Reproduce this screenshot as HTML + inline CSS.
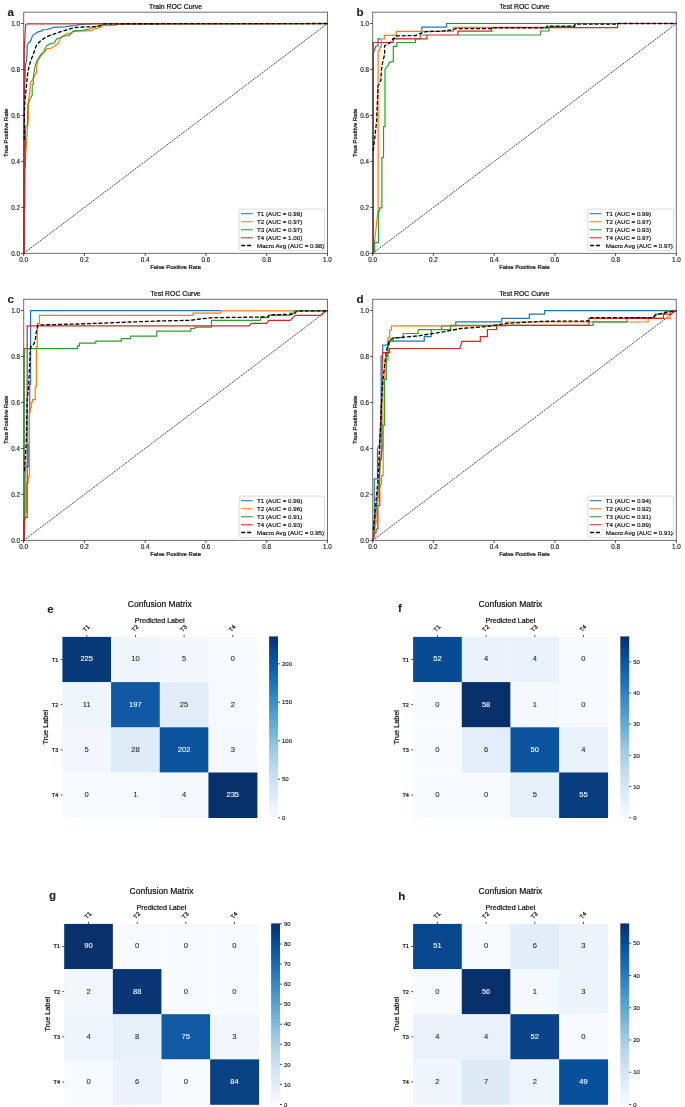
<!DOCTYPE html>
<html><head><meta charset="utf-8"><style>
html,body{margin:0;padding:0;background:#fff;}
svg{display:block;font-family:"Liberation Sans", sans-serif;}
svg{will-change:transform;}
</style></head><body>
<svg width="685" height="1107" viewBox="0 0 685 1107">
<rect width="685" height="1107" fill="#fff"/>
<g>
<line x1="23.70" y1="253.40" x2="327.50" y2="23.50" stroke="#000" stroke-width="0.75" stroke-dasharray="1.9,1.0"/>
<path d="M24.25,253.40 L24.25,150.00 L24.50,87.50 L25.10,76.70 L25.40,65.80 L26.50,60.40 L27.00,55.00 L27.20,45.70 L28.30,43.00 L30.50,41.30 L31.40,38.60 L33.10,35.10 L35.30,33.80 L37.50,32.10 L41.00,31.20 L42.80,29.90 L46.30,29.50 L50.70,28.60 L53.30,27.30 L65.50,26.80 L69.00,26.20 L76.80,25.50 L78.50,24.60 L86.40,24.20 L95.00,23.60 L327.80,23.50" fill="none" stroke="#1f77b4" stroke-width="1.2" stroke-linejoin="miter"/>
<path d="M24.30,253.40 L24.40,211.00 L25.10,207.00 L25.20,167.00 L25.60,155.00 L26.30,145.60 L27.40,131.00 L28.50,116.70 L28.70,99.40 L29.50,94.50 L30.00,88.60 L30.30,82.60 L32.70,79.40 L34.60,75.60 L36.50,72.90 L36.80,65.80 L37.90,60.40 L41.70,55.00 L45.40,50.90 L47.20,48.70 L50.20,48.70 L55.00,45.70 L58.50,43.00 L60.30,38.60 L63.80,36.00 L66.40,33.80 L70.80,33.40 L73.40,31.60 L78.50,31.20 L91.60,30.60 L95.10,28.60 L101.30,27.30 L103.00,25.50 L115.30,25.30 L116.20,24.20 L140.00,23.80 L327.80,23.60" fill="none" stroke="#ff7f0e" stroke-width="1.2" stroke-linejoin="miter"/>
<path d="M24.25,253.40 L24.30,170.00 L25.50,166.00 L25.50,150.00 L25.60,126.80 L27.30,125.40 L27.60,115.00 L27.90,103.70 L28.70,102.60 L30.60,98.30 L32.20,95.00 L32.20,84.80 L33.30,84.20 L33.30,78.30 L33.80,74.00 L34.60,68.50 L36.20,62.60 L37.90,59.30 L40.60,55.00 L43.60,52.20 L46.30,46.10 L49.80,43.90 L54.20,43.00 L56.80,38.60 L60.30,38.00 L62.90,36.00 L69.00,35.60 L73.40,30.80 L82.90,30.30 L89.90,29.00 L92.50,27.30 L97.80,26.00 L103.00,24.60 L104.80,23.80 L327.80,23.60" fill="none" stroke="#2ca02c" stroke-width="1.2" stroke-linejoin="miter"/>
<path d="M24.25,253.40 L24.25,49.20 L25.30,30.80 L25.70,24.20 L28.30,23.80 L327.80,23.50" fill="none" stroke="#d62728" stroke-width="1.2" stroke-linejoin="miter"/>
<path d="M24.25,140.00 L24.50,109.00 L24.90,101.00 L25.70,92.90 L26.20,87.50 L26.80,82.00 L27.30,76.70 L28.10,71.20 L29.20,65.80 L30.80,60.40 L33.00,55.00 L36.60,44.80 L41.00,40.40 L46.30,36.90 L53.30,34.30 L59.40,32.10 L66.40,29.90 L72.60,28.10 L75.00,27.50 L83.80,27.00 L97.00,26.70 L100.00,25.80 L104.00,23.80 L327.80,23.50" fill="none" stroke="#000" stroke-width="1.3" stroke-dasharray="4.0,1.8"/>
<path d="M23.70,12.20 H327.50 M23.70,253.40 H327.50 M23.70,11.90 V253.70 M327.50,11.90 V253.70" fill="none" stroke="#222" stroke-width="0.65"/>
<line x1="23.70" y1="253.40" x2="23.70" y2="256.00" stroke="#222" stroke-width="0.8"/>
<text x="23.70" y="261.60" font-size="6.3" text-anchor="middle" font-weight="normal" fill="#111" stroke="#111" stroke-width="0.12" >0.0</text>
<line x1="21.10" y1="253.40" x2="23.70" y2="253.40" stroke="#222" stroke-width="0.8"/>
<text x="20.00" y="255.65" font-size="6.3" text-anchor="end" font-weight="normal" fill="#111" stroke="#111" stroke-width="0.12" >0.0</text>
<line x1="84.46" y1="253.40" x2="84.46" y2="256.00" stroke="#222" stroke-width="0.8"/>
<text x="84.46" y="261.60" font-size="6.3" text-anchor="middle" font-weight="normal" fill="#111" stroke="#111" stroke-width="0.12" >0.2</text>
<line x1="21.10" y1="207.42" x2="23.70" y2="207.42" stroke="#222" stroke-width="0.8"/>
<text x="20.00" y="209.67" font-size="6.3" text-anchor="end" font-weight="normal" fill="#111" stroke="#111" stroke-width="0.12" >0.2</text>
<line x1="145.22" y1="253.40" x2="145.22" y2="256.00" stroke="#222" stroke-width="0.8"/>
<text x="145.22" y="261.60" font-size="6.3" text-anchor="middle" font-weight="normal" fill="#111" stroke="#111" stroke-width="0.12" >0.4</text>
<line x1="21.10" y1="161.44" x2="23.70" y2="161.44" stroke="#222" stroke-width="0.8"/>
<text x="20.00" y="163.69" font-size="6.3" text-anchor="end" font-weight="normal" fill="#111" stroke="#111" stroke-width="0.12" >0.4</text>
<line x1="205.98" y1="253.40" x2="205.98" y2="256.00" stroke="#222" stroke-width="0.8"/>
<text x="205.98" y="261.60" font-size="6.3" text-anchor="middle" font-weight="normal" fill="#111" stroke="#111" stroke-width="0.12" >0.6</text>
<line x1="21.10" y1="115.46" x2="23.70" y2="115.46" stroke="#222" stroke-width="0.8"/>
<text x="20.00" y="117.71" font-size="6.3" text-anchor="end" font-weight="normal" fill="#111" stroke="#111" stroke-width="0.12" >0.6</text>
<line x1="266.74" y1="253.40" x2="266.74" y2="256.00" stroke="#222" stroke-width="0.8"/>
<text x="266.74" y="261.60" font-size="6.3" text-anchor="middle" font-weight="normal" fill="#111" stroke="#111" stroke-width="0.12" >0.8</text>
<line x1="21.10" y1="69.48" x2="23.70" y2="69.48" stroke="#222" stroke-width="0.8"/>
<text x="20.00" y="71.73" font-size="6.3" text-anchor="end" font-weight="normal" fill="#111" stroke="#111" stroke-width="0.12" >0.8</text>
<line x1="327.50" y1="253.40" x2="327.50" y2="256.00" stroke="#222" stroke-width="0.8"/>
<text x="327.50" y="261.60" font-size="6.3" text-anchor="middle" font-weight="normal" fill="#111" stroke="#111" stroke-width="0.12" >1.0</text>
<line x1="21.10" y1="23.50" x2="23.70" y2="23.50" stroke="#222" stroke-width="0.8"/>
<text x="20.00" y="25.75" font-size="6.3" text-anchor="end" font-weight="normal" fill="#111" stroke="#111" stroke-width="0.12" >1.0</text>
<text x="175.60" y="269.20" font-size="5.9" text-anchor="middle" font-weight="normal" fill="#111" stroke="#111" stroke-width="0.22" >False Positive Rate</text>
<text x="8.40" y="132.80" font-size="5.9" text-anchor="middle" font-weight="normal" fill="#111" stroke="#111" stroke-width="0.22" transform="rotate(-90 8.40 132.80)">True Positive Rate</text>
<text x="175.60" y="9.00" font-size="6.9" text-anchor="middle" font-weight="normal" fill="#111" stroke="#111" stroke-width="0.22" >Train ROC Curve</text>
<text x="7.60" y="16.00" font-size="11.6" text-anchor="start" font-weight="bold" fill="#222" stroke="#222" stroke-width="0.1" >a</text>
<rect x="239.10" y="209.10" width="85.40" height="41.30" rx="1" fill="#fff" fill-opacity="0.8" stroke="#ccc" stroke-width="0.7"/>
<line x1="241.00" y1="213.70" x2="252.90" y2="213.70" stroke="#1f77b4" stroke-width="1.05"/>
<text x="257.00" y="215.70" font-size="6.2" text-anchor="start" font-weight="normal" fill="#111" stroke="#111" stroke-width="0.18" >T1 (AUC = 0.99)</text>
<line x1="241.00" y1="221.73" x2="252.90" y2="221.73" stroke="#ff7f0e" stroke-width="1.05"/>
<text x="257.00" y="223.73" font-size="6.2" text-anchor="start" font-weight="normal" fill="#111" stroke="#111" stroke-width="0.18" >T2 (AUC = 0.97)</text>
<line x1="241.00" y1="229.76" x2="252.90" y2="229.76" stroke="#2ca02c" stroke-width="1.05"/>
<text x="257.00" y="231.76" font-size="6.2" text-anchor="start" font-weight="normal" fill="#111" stroke="#111" stroke-width="0.18" >T3 (AUC = 0.97)</text>
<line x1="241.00" y1="237.79" x2="252.90" y2="237.79" stroke="#d62728" stroke-width="1.05"/>
<text x="257.00" y="239.79" font-size="6.2" text-anchor="start" font-weight="normal" fill="#111" stroke="#111" stroke-width="0.18" >T4 (AUC = 1.00)</text>
<line x1="241.30" y1="245.52" x2="252.40" y2="245.52" stroke="#000" stroke-width="1.3" stroke-dasharray="4.0,1.8"/>
<text x="257.00" y="247.82" font-size="6.2" text-anchor="start" font-weight="normal" fill="#111" stroke="#111" stroke-width="0.18" >Macro Avg (AUC = 0.98)</text>
</g>
<g>
<line x1="372.70" y1="253.40" x2="676.30" y2="23.50" stroke="#000" stroke-width="0.75" stroke-dasharray="1.9,1.0"/>
<path d="M373.25,253.40 L373.25,53.70 L375.80,46.30 L378.00,45.80 L378.00,38.80 L380.80,38.80 M421.80,31.40 L421.80,27.20 L446.60,27.20 L446.60,23.50 L676.30,23.50" fill="none" stroke="#1f77b4" stroke-width="1.2" stroke-linejoin="miter"/>
<path d="M373.25,253.40 L378.10,209.90 L378.10,50.90 L379.80,50.90 L379.80,47.10 L381.30,47.10 L381.30,39.00 L384.40,39.00 L384.40,35.30 L396.40,35.30 L396.40,31.40 L453.30,31.40 L453.30,27.40 L574.60,27.40 L574.60,23.50 L676.30,23.50" fill="none" stroke="#ff7f0e" stroke-width="1.2" stroke-linejoin="miter"/>
<path d="M373.25,253.40 L374.50,251.00 L374.50,242.70 L378.50,242.70 L378.50,211.20 L379.70,211.20 L379.70,207.80 L381.90,207.80 L381.90,157.60 L383.50,157.60 L383.50,126.70 L385.00,126.70 L385.00,69.30 L386.20,67.60 L388.00,65.80 L389.30,62.30 L393.30,61.40 L393.30,46.30 L396.80,46.30 L396.80,42.50 L415.50,42.50 L415.50,38.60 L420.40,38.60 L420.40,35.00 L427.00,35.00 M457.90,35.00 L540.60,35.00 L540.60,31.00 L549.00,31.00 L549.00,26.50 L574.60,26.50 L574.60,23.50 L676.30,23.50" fill="none" stroke="#2ca02c" stroke-width="1.2" stroke-linejoin="miter"/>
<path d="M373.25,253.40 L373.25,42.50 L393.30,42.50 L393.30,38.60 L426.90,38.80 L426.90,35.00 L457.90,35.00 L457.90,31.10 L491.60,31.10 L491.60,27.70 L617.60,27.70 L617.60,23.50 L676.30,23.50" fill="none" stroke="#d62728" stroke-width="1.2" stroke-linejoin="miter"/>
<path d="M373.25,151.00 L376.60,121.50 L378.00,86.30 L380.90,80.30 L381.40,70.00 L382.30,64.00 L384.60,54.40 L384.60,45.80 L390.70,42.30 L393.30,38.60 L396.40,37.10 L396.80,35.90 L415.50,35.50 L422.60,32.50 L426.10,31.60 L440.00,31.30 L452.00,30.00 L456.00,28.70 L491.00,28.70 L492.00,27.90 L546.70,27.90 L547.00,26.20 L574.60,26.20 L575.00,24.20 L617.60,24.20 L618.00,23.50 L676.30,23.50" fill="none" stroke="#000" stroke-width="1.3" stroke-dasharray="4.0,1.8"/>
<path d="M372.70,12.20 H676.30 M372.70,253.40 H676.30 M372.70,11.90 V253.70 M676.30,11.90 V253.70" fill="none" stroke="#222" stroke-width="0.65"/>
<line x1="372.70" y1="253.40" x2="372.70" y2="256.00" stroke="#222" stroke-width="0.8"/>
<text x="372.70" y="261.60" font-size="6.3" text-anchor="middle" font-weight="normal" fill="#111" stroke="#111" stroke-width="0.12" >0.0</text>
<line x1="370.10" y1="253.40" x2="372.70" y2="253.40" stroke="#222" stroke-width="0.8"/>
<text x="369.00" y="255.65" font-size="6.3" text-anchor="end" font-weight="normal" fill="#111" stroke="#111" stroke-width="0.12" >0.0</text>
<line x1="433.42" y1="253.40" x2="433.42" y2="256.00" stroke="#222" stroke-width="0.8"/>
<text x="433.42" y="261.60" font-size="6.3" text-anchor="middle" font-weight="normal" fill="#111" stroke="#111" stroke-width="0.12" >0.2</text>
<line x1="370.10" y1="207.42" x2="372.70" y2="207.42" stroke="#222" stroke-width="0.8"/>
<text x="369.00" y="209.67" font-size="6.3" text-anchor="end" font-weight="normal" fill="#111" stroke="#111" stroke-width="0.12" >0.2</text>
<line x1="494.14" y1="253.40" x2="494.14" y2="256.00" stroke="#222" stroke-width="0.8"/>
<text x="494.14" y="261.60" font-size="6.3" text-anchor="middle" font-weight="normal" fill="#111" stroke="#111" stroke-width="0.12" >0.4</text>
<line x1="370.10" y1="161.44" x2="372.70" y2="161.44" stroke="#222" stroke-width="0.8"/>
<text x="369.00" y="163.69" font-size="6.3" text-anchor="end" font-weight="normal" fill="#111" stroke="#111" stroke-width="0.12" >0.4</text>
<line x1="554.86" y1="253.40" x2="554.86" y2="256.00" stroke="#222" stroke-width="0.8"/>
<text x="554.86" y="261.60" font-size="6.3" text-anchor="middle" font-weight="normal" fill="#111" stroke="#111" stroke-width="0.12" >0.6</text>
<line x1="370.10" y1="115.46" x2="372.70" y2="115.46" stroke="#222" stroke-width="0.8"/>
<text x="369.00" y="117.71" font-size="6.3" text-anchor="end" font-weight="normal" fill="#111" stroke="#111" stroke-width="0.12" >0.6</text>
<line x1="615.58" y1="253.40" x2="615.58" y2="256.00" stroke="#222" stroke-width="0.8"/>
<text x="615.58" y="261.60" font-size="6.3" text-anchor="middle" font-weight="normal" fill="#111" stroke="#111" stroke-width="0.12" >0.8</text>
<line x1="370.10" y1="69.48" x2="372.70" y2="69.48" stroke="#222" stroke-width="0.8"/>
<text x="369.00" y="71.73" font-size="6.3" text-anchor="end" font-weight="normal" fill="#111" stroke="#111" stroke-width="0.12" >0.8</text>
<line x1="676.30" y1="253.40" x2="676.30" y2="256.00" stroke="#222" stroke-width="0.8"/>
<text x="676.30" y="261.60" font-size="6.3" text-anchor="middle" font-weight="normal" fill="#111" stroke="#111" stroke-width="0.12" >1.0</text>
<line x1="370.10" y1="23.50" x2="372.70" y2="23.50" stroke="#222" stroke-width="0.8"/>
<text x="369.00" y="25.75" font-size="6.3" text-anchor="end" font-weight="normal" fill="#111" stroke="#111" stroke-width="0.12" >1.0</text>
<text x="524.50" y="269.20" font-size="5.9" text-anchor="middle" font-weight="normal" fill="#111" stroke="#111" stroke-width="0.22" >False Positive Rate</text>
<text x="357.40" y="132.80" font-size="5.9" text-anchor="middle" font-weight="normal" fill="#111" stroke="#111" stroke-width="0.22" transform="rotate(-90 357.40 132.80)">True Positive Rate</text>
<text x="524.50" y="9.00" font-size="6.9" text-anchor="middle" font-weight="normal" fill="#111" stroke="#111" stroke-width="0.22" >Test ROC Curve</text>
<text x="356.60" y="16.00" font-size="11.6" text-anchor="start" font-weight="bold" fill="#222" stroke="#222" stroke-width="0.1" >b</text>
<rect x="587.90" y="209.10" width="85.40" height="41.30" rx="1" fill="#fff" fill-opacity="0.8" stroke="#ccc" stroke-width="0.7"/>
<line x1="589.80" y1="213.70" x2="601.70" y2="213.70" stroke="#1f77b4" stroke-width="1.05"/>
<text x="605.80" y="215.70" font-size="6.2" text-anchor="start" font-weight="normal" fill="#111" stroke="#111" stroke-width="0.18" >T1 (AUC = 0.99)</text>
<line x1="589.80" y1="221.73" x2="601.70" y2="221.73" stroke="#ff7f0e" stroke-width="1.05"/>
<text x="605.80" y="223.73" font-size="6.2" text-anchor="start" font-weight="normal" fill="#111" stroke="#111" stroke-width="0.18" >T2 (AUC = 0.97)</text>
<line x1="589.80" y1="229.76" x2="601.70" y2="229.76" stroke="#2ca02c" stroke-width="1.05"/>
<text x="605.80" y="231.76" font-size="6.2" text-anchor="start" font-weight="normal" fill="#111" stroke="#111" stroke-width="0.18" >T3 (AUC = 0.93)</text>
<line x1="589.80" y1="237.79" x2="601.70" y2="237.79" stroke="#d62728" stroke-width="1.05"/>
<text x="605.80" y="239.79" font-size="6.2" text-anchor="start" font-weight="normal" fill="#111" stroke="#111" stroke-width="0.18" >T4 (AUC = 0.97)</text>
<line x1="590.10" y1="245.52" x2="601.20" y2="245.52" stroke="#000" stroke-width="1.3" stroke-dasharray="4.0,1.8"/>
<text x="605.80" y="247.82" font-size="6.2" text-anchor="start" font-weight="normal" fill="#111" stroke="#111" stroke-width="0.18" >Macro Avg (AUC = 0.97)</text>
</g>
<g>
<line x1="23.70" y1="540.40" x2="327.50" y2="310.50" stroke="#000" stroke-width="0.75" stroke-dasharray="1.9,1.0"/>
<path d="M24.30,540.40 L24.30,520.00 L25.00,513.00 L25.00,466.60 L28.30,466.60 L28.30,445.00 L29.30,445.00 L29.30,411.40 L29.70,411.40 L29.70,384.30 L30.60,384.30 L30.60,310.60 L221.00,310.60" fill="none" stroke="#1f77b4" stroke-width="1.2" stroke-linejoin="miter"/>
<path d="M24.40,540.40 L25.00,512.00 L26.40,512.00 L26.40,482.70 L28.30,482.70 L28.30,476.20 L29.50,476.20 L29.50,412.30 L30.20,412.30 L30.20,407.80 L31.50,407.80 L31.50,402.40 L32.50,402.40 L32.50,399.70 L35.20,399.70 L35.20,387.00 L36.40,387.00 L36.40,346.60 L37.30,346.60 L37.30,323.30 L39.50,323.30 L39.50,315.30 L193.10,315.30 L193.10,313.20 L220.70,313.20 L220.70,310.80 L327.80,310.80" fill="none" stroke="#ff7f0e" stroke-width="1.2" stroke-linejoin="miter"/>
<path d="M24.25,540.40 L24.25,348.60 L77.40,348.60 L77.40,345.90 L79.40,345.90 L79.40,343.20 L95.80,343.20 L95.80,341.20 L121.30,341.20 L121.30,338.70 L130.50,338.70 L130.50,336.10 L156.80,336.10 L156.80,331.20 L190.80,331.20 L190.80,328.50 L194.90,328.50 L194.90,327.10 L211.50,327.10 L211.50,320.40 L260.50,320.40 L260.50,317.70 L268.70,317.70 L268.70,315.30 L290.10,315.30 L290.10,313.20 L294.20,313.20 L294.20,310.80 L327.80,310.80" fill="none" stroke="#2ca02c" stroke-width="1.2" stroke-linejoin="miter"/>
<path d="M24.25,540.40 L24.25,520.00 L24.80,520.00 L24.80,517.30 L27.20,517.30 L27.20,325.80 L249.30,325.80 L251.30,323.40 L266.60,323.40 L268.70,320.40 L290.10,320.40 L295.30,315.30 L320.80,315.30 L324.90,310.80 L327.80,310.80" fill="none" stroke="#d62728" stroke-width="1.2" stroke-linejoin="miter"/>
<path d="M24.50,471.30 L26.10,445.00 L26.60,430.00 L27.00,402.00 L28.80,384.00 L30.20,350.00 L30.60,347.10 L33.00,345.50 L35.20,341.10 L36.20,332.50 L37.90,325.40 L40.60,324.90 L78.40,324.00 L121.30,322.40 L158.10,321.00 L190.80,320.30 L200.00,319.00 L212.50,317.70 L267.70,316.90 L269.70,314.90 L294.20,314.20 L296.30,311.60 L300.00,310.80 L327.80,310.80" fill="none" stroke="#000" stroke-width="1.3" stroke-dasharray="4.0,1.8"/>
<path d="M23.70,299.30 H327.50 M23.70,540.40 H327.50 M23.70,299.00 V540.70 M327.50,299.00 V540.70" fill="none" stroke="#222" stroke-width="0.65"/>
<line x1="23.70" y1="540.40" x2="23.70" y2="543.00" stroke="#222" stroke-width="0.8"/>
<text x="23.70" y="548.60" font-size="6.3" text-anchor="middle" font-weight="normal" fill="#111" stroke="#111" stroke-width="0.12" >0.0</text>
<line x1="21.10" y1="540.40" x2="23.70" y2="540.40" stroke="#222" stroke-width="0.8"/>
<text x="20.00" y="542.65" font-size="6.3" text-anchor="end" font-weight="normal" fill="#111" stroke="#111" stroke-width="0.12" >0.0</text>
<line x1="84.46" y1="540.40" x2="84.46" y2="543.00" stroke="#222" stroke-width="0.8"/>
<text x="84.46" y="548.60" font-size="6.3" text-anchor="middle" font-weight="normal" fill="#111" stroke="#111" stroke-width="0.12" >0.2</text>
<line x1="21.10" y1="494.42" x2="23.70" y2="494.42" stroke="#222" stroke-width="0.8"/>
<text x="20.00" y="496.67" font-size="6.3" text-anchor="end" font-weight="normal" fill="#111" stroke="#111" stroke-width="0.12" >0.2</text>
<line x1="145.22" y1="540.40" x2="145.22" y2="543.00" stroke="#222" stroke-width="0.8"/>
<text x="145.22" y="548.60" font-size="6.3" text-anchor="middle" font-weight="normal" fill="#111" stroke="#111" stroke-width="0.12" >0.4</text>
<line x1="21.10" y1="448.44" x2="23.70" y2="448.44" stroke="#222" stroke-width="0.8"/>
<text x="20.00" y="450.69" font-size="6.3" text-anchor="end" font-weight="normal" fill="#111" stroke="#111" stroke-width="0.12" >0.4</text>
<line x1="205.98" y1="540.40" x2="205.98" y2="543.00" stroke="#222" stroke-width="0.8"/>
<text x="205.98" y="548.60" font-size="6.3" text-anchor="middle" font-weight="normal" fill="#111" stroke="#111" stroke-width="0.12" >0.6</text>
<line x1="21.10" y1="402.46" x2="23.70" y2="402.46" stroke="#222" stroke-width="0.8"/>
<text x="20.00" y="404.71" font-size="6.3" text-anchor="end" font-weight="normal" fill="#111" stroke="#111" stroke-width="0.12" >0.6</text>
<line x1="266.74" y1="540.40" x2="266.74" y2="543.00" stroke="#222" stroke-width="0.8"/>
<text x="266.74" y="548.60" font-size="6.3" text-anchor="middle" font-weight="normal" fill="#111" stroke="#111" stroke-width="0.12" >0.8</text>
<line x1="21.10" y1="356.48" x2="23.70" y2="356.48" stroke="#222" stroke-width="0.8"/>
<text x="20.00" y="358.73" font-size="6.3" text-anchor="end" font-weight="normal" fill="#111" stroke="#111" stroke-width="0.12" >0.8</text>
<line x1="327.50" y1="540.40" x2="327.50" y2="543.00" stroke="#222" stroke-width="0.8"/>
<text x="327.50" y="548.60" font-size="6.3" text-anchor="middle" font-weight="normal" fill="#111" stroke="#111" stroke-width="0.12" >1.0</text>
<line x1="21.10" y1="310.50" x2="23.70" y2="310.50" stroke="#222" stroke-width="0.8"/>
<text x="20.00" y="312.75" font-size="6.3" text-anchor="end" font-weight="normal" fill="#111" stroke="#111" stroke-width="0.12" >1.0</text>
<text x="175.60" y="556.20" font-size="5.9" text-anchor="middle" font-weight="normal" fill="#111" stroke="#111" stroke-width="0.22" >False Positive Rate</text>
<text x="8.40" y="419.85" font-size="5.9" text-anchor="middle" font-weight="normal" fill="#111" stroke="#111" stroke-width="0.22" transform="rotate(-90 8.40 419.85)">True Positive Rate</text>
<text x="175.60" y="296.10" font-size="6.9" text-anchor="middle" font-weight="normal" fill="#111" stroke="#111" stroke-width="0.22" >Test ROC Curve</text>
<text x="7.60" y="303.00" font-size="11.6" text-anchor="start" font-weight="bold" fill="#222" stroke="#222" stroke-width="0.1" >c</text>
<rect x="239.10" y="496.10" width="85.40" height="41.30" rx="1" fill="#fff" fill-opacity="0.8" stroke="#ccc" stroke-width="0.7"/>
<line x1="241.00" y1="500.70" x2="252.90" y2="500.70" stroke="#1f77b4" stroke-width="1.05"/>
<text x="257.00" y="502.70" font-size="6.2" text-anchor="start" font-weight="normal" fill="#111" stroke="#111" stroke-width="0.18" >T1 (AUC = 0.99)</text>
<line x1="241.00" y1="508.73" x2="252.90" y2="508.73" stroke="#ff7f0e" stroke-width="1.05"/>
<text x="257.00" y="510.73" font-size="6.2" text-anchor="start" font-weight="normal" fill="#111" stroke="#111" stroke-width="0.18" >T2 (AUC = 0.96)</text>
<line x1="241.00" y1="516.76" x2="252.90" y2="516.76" stroke="#2ca02c" stroke-width="1.05"/>
<text x="257.00" y="518.76" font-size="6.2" text-anchor="start" font-weight="normal" fill="#111" stroke="#111" stroke-width="0.18" >T3 (AUC = 0.91)</text>
<line x1="241.00" y1="524.79" x2="252.90" y2="524.79" stroke="#d62728" stroke-width="1.05"/>
<text x="257.00" y="526.79" font-size="6.2" text-anchor="start" font-weight="normal" fill="#111" stroke="#111" stroke-width="0.18" >T4 (AUC = 0.93)</text>
<line x1="241.30" y1="532.52" x2="252.40" y2="532.52" stroke="#000" stroke-width="1.3" stroke-dasharray="4.0,1.8"/>
<text x="257.00" y="534.82" font-size="6.2" text-anchor="start" font-weight="normal" fill="#111" stroke="#111" stroke-width="0.18" >Macro Avg (AUC = 0.95)</text>
</g>
<g>
<line x1="372.70" y1="540.40" x2="676.30" y2="310.50" stroke="#000" stroke-width="0.75" stroke-dasharray="1.9,1.0"/>
<path d="M373.25,540.40 L373.50,530.00 L374.30,517.00 L374.30,478.90 L377.50,478.90 L377.50,448.60 L379.30,445.00 L380.30,430.00 L381.10,402.10 L381.10,356.10 L382.70,356.10 L382.70,345.10 L389.30,345.10 L389.30,341.20 L424.30,341.20 L424.30,336.70 L431.20,336.70 L431.20,329.50 L441.50,329.50 L441.50,325.80 L455.80,325.80 L455.80,321.80 L501.70,321.80 L501.70,318.30 L529.30,318.30 L529.30,314.20 L544.70,314.20 L544.70,310.60 L676.30,310.60" fill="none" stroke="#1f77b4" stroke-width="1.2" stroke-linejoin="miter"/>
<path d="M373.25,540.40 L374.30,530.00 L375.70,524.00 L377.00,520.00 L377.00,506.00 L378.40,498.00 L378.40,490.00 L381.60,483.00 L381.60,475.70 L383.20,475.70 L383.20,445.00 L382.90,440.00 L382.90,378.10 L385.00,378.10 L385.00,360.10 L388.00,360.10 L388.00,337.70 L389.70,337.70 L389.70,329.80 L391.50,329.80 L391.50,325.80 L505.80,325.80 L505.80,322.00 L648.20,322.00 L648.20,318.30 L670.00,318.30 L670.00,310.80 L676.30,310.80" fill="none" stroke="#ff7f0e" stroke-width="1.2" stroke-linejoin="miter"/>
<path d="M373.25,540.40 L374.30,530.00 L376.00,510.00 L377.50,495.00 L379.00,480.00 L380.50,460.00 L382.90,445.00 L382.90,425.30 L384.60,425.30 L384.60,379.40 L386.30,379.40 L386.30,356.30 L388.00,356.30 L388.00,341.20 L393.20,341.20 L393.20,337.70 L403.30,337.70 L403.30,333.50 L418.20,333.50 L418.20,329.60 L450.70,329.60 L450.70,325.40 L593.00,325.40 L593.00,321.80 L626.80,321.80 L626.80,317.70 L655.00,317.70 L655.00,314.20 L665.00,314.20 L665.00,311.20 L676.30,310.80" fill="none" stroke="#2ca02c" stroke-width="1.2" stroke-linejoin="miter"/>
<path d="M373.25,540.40 L374.30,536.00 L374.30,532.60 L376.10,532.60 L376.10,529.00 L377.90,529.00 L377.90,505.50 L379.70,505.50 L379.70,459.50 L381.20,459.50 L381.20,430.00 L381.50,400.00 L382.00,382.00 L382.40,356.00 L382.70,352.60 L389.70,352.60 L389.70,348.50 L459.90,348.50 L461.90,341.40 L480.30,341.40 L480.30,336.70 L487.40,336.70 L487.40,329.50 L496.60,329.50 L496.60,325.40 L588.90,325.40 L588.90,318.30 L663.50,318.30 L663.50,314.20 L671.00,314.20 L675.00,310.80 L676.30,310.80" fill="none" stroke="#d62728" stroke-width="1.2" stroke-linejoin="miter"/>
<path d="M373.50,530.00 L376.30,497.60 L378.00,480.00 L379.70,445.00 L380.30,432.00 L381.60,402.00 L382.90,380.00 L385.90,355.00 L387.50,345.50 L390.60,339.40 L393.60,338.10 L403.30,337.20 L418.20,335.90 L444.50,331.60 L460.90,328.50 L487.40,326.50 L505.80,323.40 L542.60,321.30 L588.90,321.00 L591.00,317.70 L653.00,317.70 L655.00,315.30 L667.00,312.20 L676.30,310.80" fill="none" stroke="#000" stroke-width="1.3" stroke-dasharray="4.0,1.8"/>
<path d="M372.70,299.30 H676.30 M372.70,540.40 H676.30 M372.70,299.00 V540.70 M676.30,299.00 V540.70" fill="none" stroke="#222" stroke-width="0.65"/>
<line x1="372.70" y1="540.40" x2="372.70" y2="543.00" stroke="#222" stroke-width="0.8"/>
<text x="372.70" y="548.60" font-size="6.3" text-anchor="middle" font-weight="normal" fill="#111" stroke="#111" stroke-width="0.12" >0.0</text>
<line x1="370.10" y1="540.40" x2="372.70" y2="540.40" stroke="#222" stroke-width="0.8"/>
<text x="369.00" y="542.65" font-size="6.3" text-anchor="end" font-weight="normal" fill="#111" stroke="#111" stroke-width="0.12" >0.0</text>
<line x1="433.42" y1="540.40" x2="433.42" y2="543.00" stroke="#222" stroke-width="0.8"/>
<text x="433.42" y="548.60" font-size="6.3" text-anchor="middle" font-weight="normal" fill="#111" stroke="#111" stroke-width="0.12" >0.2</text>
<line x1="370.10" y1="494.42" x2="372.70" y2="494.42" stroke="#222" stroke-width="0.8"/>
<text x="369.00" y="496.67" font-size="6.3" text-anchor="end" font-weight="normal" fill="#111" stroke="#111" stroke-width="0.12" >0.2</text>
<line x1="494.14" y1="540.40" x2="494.14" y2="543.00" stroke="#222" stroke-width="0.8"/>
<text x="494.14" y="548.60" font-size="6.3" text-anchor="middle" font-weight="normal" fill="#111" stroke="#111" stroke-width="0.12" >0.4</text>
<line x1="370.10" y1="448.44" x2="372.70" y2="448.44" stroke="#222" stroke-width="0.8"/>
<text x="369.00" y="450.69" font-size="6.3" text-anchor="end" font-weight="normal" fill="#111" stroke="#111" stroke-width="0.12" >0.4</text>
<line x1="554.86" y1="540.40" x2="554.86" y2="543.00" stroke="#222" stroke-width="0.8"/>
<text x="554.86" y="548.60" font-size="6.3" text-anchor="middle" font-weight="normal" fill="#111" stroke="#111" stroke-width="0.12" >0.6</text>
<line x1="370.10" y1="402.46" x2="372.70" y2="402.46" stroke="#222" stroke-width="0.8"/>
<text x="369.00" y="404.71" font-size="6.3" text-anchor="end" font-weight="normal" fill="#111" stroke="#111" stroke-width="0.12" >0.6</text>
<line x1="615.58" y1="540.40" x2="615.58" y2="543.00" stroke="#222" stroke-width="0.8"/>
<text x="615.58" y="548.60" font-size="6.3" text-anchor="middle" font-weight="normal" fill="#111" stroke="#111" stroke-width="0.12" >0.8</text>
<line x1="370.10" y1="356.48" x2="372.70" y2="356.48" stroke="#222" stroke-width="0.8"/>
<text x="369.00" y="358.73" font-size="6.3" text-anchor="end" font-weight="normal" fill="#111" stroke="#111" stroke-width="0.12" >0.8</text>
<line x1="676.30" y1="540.40" x2="676.30" y2="543.00" stroke="#222" stroke-width="0.8"/>
<text x="676.30" y="548.60" font-size="6.3" text-anchor="middle" font-weight="normal" fill="#111" stroke="#111" stroke-width="0.12" >1.0</text>
<line x1="370.10" y1="310.50" x2="372.70" y2="310.50" stroke="#222" stroke-width="0.8"/>
<text x="369.00" y="312.75" font-size="6.3" text-anchor="end" font-weight="normal" fill="#111" stroke="#111" stroke-width="0.12" >1.0</text>
<text x="524.50" y="556.20" font-size="5.9" text-anchor="middle" font-weight="normal" fill="#111" stroke="#111" stroke-width="0.22" >False Positive Rate</text>
<text x="357.40" y="419.85" font-size="5.9" text-anchor="middle" font-weight="normal" fill="#111" stroke="#111" stroke-width="0.22" transform="rotate(-90 357.40 419.85)">True Positive Rate</text>
<text x="524.50" y="296.10" font-size="6.9" text-anchor="middle" font-weight="normal" fill="#111" stroke="#111" stroke-width="0.22" >Test ROC Curve</text>
<text x="356.60" y="303.00" font-size="11.6" text-anchor="start" font-weight="bold" fill="#222" stroke="#222" stroke-width="0.1" >d</text>
<rect x="587.90" y="496.10" width="85.40" height="41.30" rx="1" fill="#fff" fill-opacity="0.8" stroke="#ccc" stroke-width="0.7"/>
<line x1="589.80" y1="500.70" x2="601.70" y2="500.70" stroke="#1f77b4" stroke-width="1.05"/>
<text x="605.80" y="502.70" font-size="6.2" text-anchor="start" font-weight="normal" fill="#111" stroke="#111" stroke-width="0.18" >T1 (AUC = 0.94)</text>
<line x1="589.80" y1="508.73" x2="601.70" y2="508.73" stroke="#ff7f0e" stroke-width="1.05"/>
<text x="605.80" y="510.73" font-size="6.2" text-anchor="start" font-weight="normal" fill="#111" stroke="#111" stroke-width="0.18" >T2 (AUC = 0.92)</text>
<line x1="589.80" y1="516.76" x2="601.70" y2="516.76" stroke="#2ca02c" stroke-width="1.05"/>
<text x="605.80" y="518.76" font-size="6.2" text-anchor="start" font-weight="normal" fill="#111" stroke="#111" stroke-width="0.18" >T3 (AUC = 0.91)</text>
<line x1="589.80" y1="524.79" x2="601.70" y2="524.79" stroke="#d62728" stroke-width="1.05"/>
<text x="605.80" y="526.79" font-size="6.2" text-anchor="start" font-weight="normal" fill="#111" stroke="#111" stroke-width="0.18" >T4 (AUC = 0.89)</text>
<line x1="590.10" y1="532.52" x2="601.20" y2="532.52" stroke="#000" stroke-width="1.3" stroke-dasharray="4.0,1.8"/>
<text x="605.80" y="534.82" font-size="6.2" text-anchor="start" font-weight="normal" fill="#111" stroke="#111" stroke-width="0.18" >Macro Avg (AUC = 0.91)</text>
</g>
<rect x="62.40" y="636.90" width="48.98" height="45.50" fill="#083a7a"/>
<rect x="111.08" y="636.90" width="48.98" height="45.50" fill="#eff6fc"/>
<rect x="159.75" y="636.90" width="48.98" height="45.50" fill="#f3f8fe"/>
<rect x="208.43" y="636.90" width="48.98" height="45.50" fill="#f7fbff"/>
<rect x="62.40" y="682.10" width="48.98" height="45.50" fill="#eef5fc"/>
<rect x="111.08" y="682.10" width="48.98" height="45.50" fill="#0f5aa3"/>
<rect x="159.75" y="682.10" width="48.98" height="45.50" fill="#e2edf8"/>
<rect x="208.43" y="682.10" width="48.98" height="45.50" fill="#f5fafe"/>
<rect x="62.40" y="727.30" width="48.98" height="45.50" fill="#f3f8fe"/>
<rect x="111.08" y="727.30" width="48.98" height="45.50" fill="#dfecf7"/>
<rect x="159.75" y="727.30" width="48.98" height="45.50" fill="#0a549e"/>
<rect x="208.43" y="727.30" width="48.98" height="45.50" fill="#f5f9fe"/>
<rect x="62.40" y="772.50" width="48.98" height="45.50" fill="#f7fbff"/>
<rect x="111.08" y="772.50" width="48.98" height="45.50" fill="#f6faff"/>
<rect x="159.75" y="772.50" width="48.98" height="45.50" fill="#f4f9fe"/>
<rect x="208.43" y="772.50" width="48.98" height="45.50" fill="#08306b"/>
<text x="86.74" y="661.45" font-size="7.6" text-anchor="middle" font-weight="normal" fill="#ffffff" stroke="#ffffff" stroke-width="0.08" >225</text>
<text x="135.41" y="661.45" font-size="7.6" text-anchor="middle" font-weight="normal" fill="#262626" stroke="#262626" stroke-width="0.08" >10</text>
<text x="184.09" y="661.45" font-size="7.6" text-anchor="middle" font-weight="normal" fill="#262626" stroke="#262626" stroke-width="0.08" >5</text>
<text x="232.76" y="661.45" font-size="7.6" text-anchor="middle" font-weight="normal" fill="#262626" stroke="#262626" stroke-width="0.08" >0</text>
<text x="86.74" y="706.65" font-size="7.6" text-anchor="middle" font-weight="normal" fill="#262626" stroke="#262626" stroke-width="0.08" >11</text>
<text x="135.41" y="706.65" font-size="7.6" text-anchor="middle" font-weight="normal" fill="#ffffff" stroke="#ffffff" stroke-width="0.08" >197</text>
<text x="184.09" y="706.65" font-size="7.6" text-anchor="middle" font-weight="normal" fill="#262626" stroke="#262626" stroke-width="0.08" >25</text>
<text x="232.76" y="706.65" font-size="7.6" text-anchor="middle" font-weight="normal" fill="#262626" stroke="#262626" stroke-width="0.08" >2</text>
<text x="86.74" y="751.85" font-size="7.6" text-anchor="middle" font-weight="normal" fill="#262626" stroke="#262626" stroke-width="0.08" >5</text>
<text x="135.41" y="751.85" font-size="7.6" text-anchor="middle" font-weight="normal" fill="#262626" stroke="#262626" stroke-width="0.08" >28</text>
<text x="184.09" y="751.85" font-size="7.6" text-anchor="middle" font-weight="normal" fill="#ffffff" stroke="#ffffff" stroke-width="0.08" >202</text>
<text x="232.76" y="751.85" font-size="7.6" text-anchor="middle" font-weight="normal" fill="#262626" stroke="#262626" stroke-width="0.08" >3</text>
<text x="86.74" y="797.05" font-size="7.6" text-anchor="middle" font-weight="normal" fill="#262626" stroke="#262626" stroke-width="0.08" >0</text>
<text x="135.41" y="797.05" font-size="7.6" text-anchor="middle" font-weight="normal" fill="#262626" stroke="#262626" stroke-width="0.08" >1</text>
<text x="184.09" y="797.05" font-size="7.6" text-anchor="middle" font-weight="normal" fill="#262626" stroke="#262626" stroke-width="0.08" >4</text>
<text x="232.76" y="797.05" font-size="7.6" text-anchor="middle" font-weight="normal" fill="#ffffff" stroke="#ffffff" stroke-width="0.08" >235</text>
<line x1="86.74" y1="634.80" x2="86.74" y2="636.90" stroke="#222" stroke-width="0.8"/>
<text x="86.24" y="628.30" font-size="5.9" text-anchor="middle" font-weight="normal" fill="#111" stroke="#111" stroke-width="0.22" transform="rotate(-45 86.24 628.30)" dominant-baseline="central">T1</text>
<line x1="135.41" y1="634.80" x2="135.41" y2="636.90" stroke="#222" stroke-width="0.8"/>
<text x="134.91" y="628.30" font-size="5.9" text-anchor="middle" font-weight="normal" fill="#111" stroke="#111" stroke-width="0.22" transform="rotate(-45 134.91 628.30)" dominant-baseline="central">T2</text>
<line x1="184.09" y1="634.80" x2="184.09" y2="636.90" stroke="#222" stroke-width="0.8"/>
<text x="183.59" y="628.30" font-size="5.9" text-anchor="middle" font-weight="normal" fill="#111" stroke="#111" stroke-width="0.22" transform="rotate(-45 183.59 628.30)" dominant-baseline="central">T3</text>
<line x1="232.76" y1="634.80" x2="232.76" y2="636.90" stroke="#222" stroke-width="0.8"/>
<text x="232.26" y="628.30" font-size="5.9" text-anchor="middle" font-weight="normal" fill="#111" stroke="#111" stroke-width="0.22" transform="rotate(-45 232.26 628.30)" dominant-baseline="central">T4</text>
<line x1="60.50" y1="659.50" x2="62.40" y2="659.50" stroke="#222" stroke-width="0.8"/>
<text x="58.20" y="661.50" font-size="5.5" text-anchor="end" font-weight="normal" fill="#111" stroke="#111" stroke-width="0.22" >T1</text>
<line x1="60.50" y1="704.70" x2="62.40" y2="704.70" stroke="#222" stroke-width="0.8"/>
<text x="58.20" y="706.70" font-size="5.5" text-anchor="end" font-weight="normal" fill="#111" stroke="#111" stroke-width="0.22" >T2</text>
<line x1="60.50" y1="749.90" x2="62.40" y2="749.90" stroke="#222" stroke-width="0.8"/>
<text x="58.20" y="751.90" font-size="5.5" text-anchor="end" font-weight="normal" fill="#111" stroke="#111" stroke-width="0.22" >T3</text>
<line x1="60.50" y1="795.10" x2="62.40" y2="795.10" stroke="#222" stroke-width="0.8"/>
<text x="58.20" y="797.10" font-size="5.5" text-anchor="end" font-weight="normal" fill="#111" stroke="#111" stroke-width="0.22" >T4</text>
<text x="159.75" y="622.70" font-size="7.2" text-anchor="middle" font-weight="normal" fill="#111" stroke="#111" stroke-width="0.22" >Predicted Label</text>
<text x="159.75" y="606.70" font-size="8.5" text-anchor="middle" font-weight="normal" fill="#111" stroke="#111" stroke-width="0.22" >Confusion Matrix</text>
<text x="48.00" y="727.30" font-size="7.3" text-anchor="middle" font-weight="normal" fill="#111" stroke="#111" stroke-width="0.22" transform="rotate(-90 48.00 727.30)">True Label</text>
<text x="47.20" y="612.60" font-size="11.6" text-anchor="start" font-weight="bold" fill="#222" stroke="#222" stroke-width="0.1" >e</text>
<defs><linearGradient id="ge" x1="0" y1="1" x2="0" y2="0"><stop offset="0.0000" stop-color="#f7fbff"/><stop offset="0.0167" stop-color="#f4f9fe"/><stop offset="0.0333" stop-color="#f1f7fd"/><stop offset="0.0500" stop-color="#eef5fc"/><stop offset="0.0667" stop-color="#eaf2fb"/><stop offset="0.0833" stop-color="#e7f0fa"/><stop offset="0.1000" stop-color="#e3eef9"/><stop offset="0.1167" stop-color="#e0ecf8"/><stop offset="0.1333" stop-color="#dceaf6"/><stop offset="0.1500" stop-color="#d9e8f5"/><stop offset="0.1667" stop-color="#d6e6f4"/><stop offset="0.1833" stop-color="#d3e4f3"/><stop offset="0.2000" stop-color="#d0e1f2"/><stop offset="0.2167" stop-color="#cddff1"/><stop offset="0.2333" stop-color="#caddf0"/><stop offset="0.2500" stop-color="#c6dbef"/><stop offset="0.2667" stop-color="#c1d9ed"/><stop offset="0.2833" stop-color="#bcd7eb"/><stop offset="0.3000" stop-color="#b7d4ea"/><stop offset="0.3167" stop-color="#b0d2e7"/><stop offset="0.3333" stop-color="#abd0e6"/><stop offset="0.3500" stop-color="#a6cee4"/><stop offset="0.3667" stop-color="#a1cbe2"/><stop offset="0.3833" stop-color="#9ac8e0"/><stop offset="0.4000" stop-color="#94c4df"/><stop offset="0.4167" stop-color="#8dc1dd"/><stop offset="0.4333" stop-color="#87bddc"/><stop offset="0.4500" stop-color="#7fb9da"/><stop offset="0.4667" stop-color="#79b5d9"/><stop offset="0.4833" stop-color="#72b2d8"/><stop offset="0.5000" stop-color="#6aaed6"/><stop offset="0.5167" stop-color="#65aad4"/><stop offset="0.5333" stop-color="#60a7d2"/><stop offset="0.5500" stop-color="#5ba3d0"/><stop offset="0.5667" stop-color="#549fcd"/><stop offset="0.5833" stop-color="#4f9bcb"/><stop offset="0.6000" stop-color="#4a98c9"/><stop offset="0.6167" stop-color="#4594c7"/><stop offset="0.6333" stop-color="#3f8fc5"/><stop offset="0.6500" stop-color="#3b8bc2"/><stop offset="0.6667" stop-color="#3787c0"/><stop offset="0.6833" stop-color="#3383be"/><stop offset="0.7000" stop-color="#2e7ebc"/><stop offset="0.7167" stop-color="#2a7ab9"/><stop offset="0.7333" stop-color="#2575b7"/><stop offset="0.7500" stop-color="#2070b4"/><stop offset="0.7667" stop-color="#1d6cb1"/><stop offset="0.7833" stop-color="#1a68ae"/><stop offset="0.8000" stop-color="#1764ab"/><stop offset="0.8167" stop-color="#135fa7"/><stop offset="0.8333" stop-color="#105ba4"/><stop offset="0.8500" stop-color="#0d57a1"/><stop offset="0.8667" stop-color="#0a539e"/><stop offset="0.8833" stop-color="#084e98"/><stop offset="0.9000" stop-color="#084a91"/><stop offset="0.9167" stop-color="#08468b"/><stop offset="0.9333" stop-color="#084285"/><stop offset="0.9500" stop-color="#083c7d"/><stop offset="0.9667" stop-color="#083877"/><stop offset="0.9833" stop-color="#083471"/><stop offset="1.0000" stop-color="#08306b"/></linearGradient></defs>
<rect x="269.10" y="636.40" width="8.90" height="181.30" fill="url(#ge)"/>
<line x1="278.00" y1="817.70" x2="280.00" y2="817.70" stroke="#222" stroke-width="0.8"/>
<text x="282.00" y="819.85" font-size="6.0" text-anchor="start" font-weight="normal" fill="#111" stroke="#111" stroke-width="0.12" >0</text>
<line x1="278.00" y1="779.23" x2="280.00" y2="779.23" stroke="#222" stroke-width="0.8"/>
<text x="282.00" y="781.38" font-size="6.0" text-anchor="start" font-weight="normal" fill="#111" stroke="#111" stroke-width="0.12" >50</text>
<line x1="278.00" y1="740.76" x2="280.00" y2="740.76" stroke="#222" stroke-width="0.8"/>
<text x="282.00" y="742.91" font-size="6.0" text-anchor="start" font-weight="normal" fill="#111" stroke="#111" stroke-width="0.12" >100</text>
<line x1="278.00" y1="702.30" x2="280.00" y2="702.30" stroke="#222" stroke-width="0.8"/>
<text x="282.00" y="704.45" font-size="6.0" text-anchor="start" font-weight="normal" fill="#111" stroke="#111" stroke-width="0.12" >150</text>
<line x1="278.00" y1="663.83" x2="280.00" y2="663.83" stroke="#222" stroke-width="0.8"/>
<text x="282.00" y="665.98" font-size="6.0" text-anchor="start" font-weight="normal" fill="#111" stroke="#111" stroke-width="0.12" >200</text>
<rect x="413.10" y="636.90" width="48.97" height="45.50" fill="#084b93"/>
<rect x="461.77" y="636.90" width="48.97" height="45.50" fill="#eaf2fb"/>
<rect x="510.45" y="636.90" width="48.97" height="45.50" fill="#eaf2fb"/>
<rect x="559.12" y="636.90" width="48.97" height="45.50" fill="#f7fbff"/>
<rect x="413.10" y="682.10" width="48.97" height="45.50" fill="#f7fbff"/>
<rect x="461.77" y="682.10" width="48.97" height="45.50" fill="#08306b"/>
<rect x="510.45" y="682.10" width="48.97" height="45.50" fill="#f4f9fe"/>
<rect x="559.12" y="682.10" width="48.97" height="45.50" fill="#f7fbff"/>
<rect x="413.10" y="727.30" width="48.97" height="45.50" fill="#f7fbff"/>
<rect x="461.77" y="727.30" width="48.97" height="45.50" fill="#e3eef8"/>
<rect x="510.45" y="727.30" width="48.97" height="45.50" fill="#0a549e"/>
<rect x="559.12" y="727.30" width="48.97" height="45.50" fill="#eaf2fb"/>
<rect x="413.10" y="772.50" width="48.97" height="45.50" fill="#f7fbff"/>
<rect x="461.77" y="772.50" width="48.97" height="45.50" fill="#f7fbff"/>
<rect x="510.45" y="772.50" width="48.97" height="45.50" fill="#e6f0f9"/>
<rect x="559.12" y="772.50" width="48.97" height="45.50" fill="#083d7f"/>
<text x="437.44" y="661.45" font-size="7.6" text-anchor="middle" font-weight="normal" fill="#ffffff" stroke="#ffffff" stroke-width="0.08" >52</text>
<text x="486.11" y="661.45" font-size="7.6" text-anchor="middle" font-weight="normal" fill="#262626" stroke="#262626" stroke-width="0.08" >4</text>
<text x="534.79" y="661.45" font-size="7.6" text-anchor="middle" font-weight="normal" fill="#262626" stroke="#262626" stroke-width="0.08" >4</text>
<text x="583.46" y="661.45" font-size="7.6" text-anchor="middle" font-weight="normal" fill="#262626" stroke="#262626" stroke-width="0.08" >0</text>
<text x="437.44" y="706.65" font-size="7.6" text-anchor="middle" font-weight="normal" fill="#262626" stroke="#262626" stroke-width="0.08" >0</text>
<text x="486.11" y="706.65" font-size="7.6" text-anchor="middle" font-weight="normal" fill="#ffffff" stroke="#ffffff" stroke-width="0.08" >58</text>
<text x="534.79" y="706.65" font-size="7.6" text-anchor="middle" font-weight="normal" fill="#262626" stroke="#262626" stroke-width="0.08" >1</text>
<text x="583.46" y="706.65" font-size="7.6" text-anchor="middle" font-weight="normal" fill="#262626" stroke="#262626" stroke-width="0.08" >0</text>
<text x="437.44" y="751.85" font-size="7.6" text-anchor="middle" font-weight="normal" fill="#262626" stroke="#262626" stroke-width="0.08" >0</text>
<text x="486.11" y="751.85" font-size="7.6" text-anchor="middle" font-weight="normal" fill="#262626" stroke="#262626" stroke-width="0.08" >6</text>
<text x="534.79" y="751.85" font-size="7.6" text-anchor="middle" font-weight="normal" fill="#ffffff" stroke="#ffffff" stroke-width="0.08" >50</text>
<text x="583.46" y="751.85" font-size="7.6" text-anchor="middle" font-weight="normal" fill="#262626" stroke="#262626" stroke-width="0.08" >4</text>
<text x="437.44" y="797.05" font-size="7.6" text-anchor="middle" font-weight="normal" fill="#262626" stroke="#262626" stroke-width="0.08" >0</text>
<text x="486.11" y="797.05" font-size="7.6" text-anchor="middle" font-weight="normal" fill="#262626" stroke="#262626" stroke-width="0.08" >0</text>
<text x="534.79" y="797.05" font-size="7.6" text-anchor="middle" font-weight="normal" fill="#262626" stroke="#262626" stroke-width="0.08" >5</text>
<text x="583.46" y="797.05" font-size="7.6" text-anchor="middle" font-weight="normal" fill="#ffffff" stroke="#ffffff" stroke-width="0.08" >55</text>
<line x1="437.44" y1="634.80" x2="437.44" y2="636.90" stroke="#222" stroke-width="0.8"/>
<text x="436.94" y="628.30" font-size="5.9" text-anchor="middle" font-weight="normal" fill="#111" stroke="#111" stroke-width="0.22" transform="rotate(-45 436.94 628.30)" dominant-baseline="central">T1</text>
<line x1="486.11" y1="634.80" x2="486.11" y2="636.90" stroke="#222" stroke-width="0.8"/>
<text x="485.61" y="628.30" font-size="5.9" text-anchor="middle" font-weight="normal" fill="#111" stroke="#111" stroke-width="0.22" transform="rotate(-45 485.61 628.30)" dominant-baseline="central">T2</text>
<line x1="534.79" y1="634.80" x2="534.79" y2="636.90" stroke="#222" stroke-width="0.8"/>
<text x="534.29" y="628.30" font-size="5.9" text-anchor="middle" font-weight="normal" fill="#111" stroke="#111" stroke-width="0.22" transform="rotate(-45 534.29 628.30)" dominant-baseline="central">T3</text>
<line x1="583.46" y1="634.80" x2="583.46" y2="636.90" stroke="#222" stroke-width="0.8"/>
<text x="582.96" y="628.30" font-size="5.9" text-anchor="middle" font-weight="normal" fill="#111" stroke="#111" stroke-width="0.22" transform="rotate(-45 582.96 628.30)" dominant-baseline="central">T4</text>
<line x1="411.20" y1="659.50" x2="413.10" y2="659.50" stroke="#222" stroke-width="0.8"/>
<text x="408.90" y="661.50" font-size="5.5" text-anchor="end" font-weight="normal" fill="#111" stroke="#111" stroke-width="0.22" >T1</text>
<line x1="411.20" y1="704.70" x2="413.10" y2="704.70" stroke="#222" stroke-width="0.8"/>
<text x="408.90" y="706.70" font-size="5.5" text-anchor="end" font-weight="normal" fill="#111" stroke="#111" stroke-width="0.22" >T2</text>
<line x1="411.20" y1="749.90" x2="413.10" y2="749.90" stroke="#222" stroke-width="0.8"/>
<text x="408.90" y="751.90" font-size="5.5" text-anchor="end" font-weight="normal" fill="#111" stroke="#111" stroke-width="0.22" >T3</text>
<line x1="411.20" y1="795.10" x2="413.10" y2="795.10" stroke="#222" stroke-width="0.8"/>
<text x="408.90" y="797.10" font-size="5.5" text-anchor="end" font-weight="normal" fill="#111" stroke="#111" stroke-width="0.22" >T4</text>
<text x="510.45" y="622.70" font-size="7.2" text-anchor="middle" font-weight="normal" fill="#111" stroke="#111" stroke-width="0.22" >Predicted Label</text>
<text x="510.45" y="606.70" font-size="8.5" text-anchor="middle" font-weight="normal" fill="#111" stroke="#111" stroke-width="0.22" >Confusion Matrix</text>
<text x="399.10" y="727.30" font-size="7.3" text-anchor="middle" font-weight="normal" fill="#111" stroke="#111" stroke-width="0.22" transform="rotate(-90 399.10 727.30)">True Label</text>
<text x="398.00" y="612.20" font-size="11.6" text-anchor="start" font-weight="bold" fill="#222" stroke="#222" stroke-width="0.1" >f</text>
<defs><linearGradient id="gf" x1="0" y1="1" x2="0" y2="0"><stop offset="0.0000" stop-color="#f7fbff"/><stop offset="0.0167" stop-color="#f4f9fe"/><stop offset="0.0333" stop-color="#f1f7fd"/><stop offset="0.0500" stop-color="#eef5fc"/><stop offset="0.0667" stop-color="#eaf2fb"/><stop offset="0.0833" stop-color="#e7f0fa"/><stop offset="0.1000" stop-color="#e3eef9"/><stop offset="0.1167" stop-color="#e0ecf8"/><stop offset="0.1333" stop-color="#dceaf6"/><stop offset="0.1500" stop-color="#d9e8f5"/><stop offset="0.1667" stop-color="#d6e6f4"/><stop offset="0.1833" stop-color="#d3e4f3"/><stop offset="0.2000" stop-color="#d0e1f2"/><stop offset="0.2167" stop-color="#cddff1"/><stop offset="0.2333" stop-color="#caddf0"/><stop offset="0.2500" stop-color="#c6dbef"/><stop offset="0.2667" stop-color="#c1d9ed"/><stop offset="0.2833" stop-color="#bcd7eb"/><stop offset="0.3000" stop-color="#b7d4ea"/><stop offset="0.3167" stop-color="#b0d2e7"/><stop offset="0.3333" stop-color="#abd0e6"/><stop offset="0.3500" stop-color="#a6cee4"/><stop offset="0.3667" stop-color="#a1cbe2"/><stop offset="0.3833" stop-color="#9ac8e0"/><stop offset="0.4000" stop-color="#94c4df"/><stop offset="0.4167" stop-color="#8dc1dd"/><stop offset="0.4333" stop-color="#87bddc"/><stop offset="0.4500" stop-color="#7fb9da"/><stop offset="0.4667" stop-color="#79b5d9"/><stop offset="0.4833" stop-color="#72b2d8"/><stop offset="0.5000" stop-color="#6aaed6"/><stop offset="0.5167" stop-color="#65aad4"/><stop offset="0.5333" stop-color="#60a7d2"/><stop offset="0.5500" stop-color="#5ba3d0"/><stop offset="0.5667" stop-color="#549fcd"/><stop offset="0.5833" stop-color="#4f9bcb"/><stop offset="0.6000" stop-color="#4a98c9"/><stop offset="0.6167" stop-color="#4594c7"/><stop offset="0.6333" stop-color="#3f8fc5"/><stop offset="0.6500" stop-color="#3b8bc2"/><stop offset="0.6667" stop-color="#3787c0"/><stop offset="0.6833" stop-color="#3383be"/><stop offset="0.7000" stop-color="#2e7ebc"/><stop offset="0.7167" stop-color="#2a7ab9"/><stop offset="0.7333" stop-color="#2575b7"/><stop offset="0.7500" stop-color="#2070b4"/><stop offset="0.7667" stop-color="#1d6cb1"/><stop offset="0.7833" stop-color="#1a68ae"/><stop offset="0.8000" stop-color="#1764ab"/><stop offset="0.8167" stop-color="#135fa7"/><stop offset="0.8333" stop-color="#105ba4"/><stop offset="0.8500" stop-color="#0d57a1"/><stop offset="0.8667" stop-color="#0a539e"/><stop offset="0.8833" stop-color="#084e98"/><stop offset="0.9000" stop-color="#084a91"/><stop offset="0.9167" stop-color="#08468b"/><stop offset="0.9333" stop-color="#084285"/><stop offset="0.9500" stop-color="#083c7d"/><stop offset="0.9667" stop-color="#083877"/><stop offset="0.9833" stop-color="#083471"/><stop offset="1.0000" stop-color="#08306b"/></linearGradient></defs>
<rect x="620.30" y="636.40" width="8.90" height="181.30" fill="url(#gf)"/>
<line x1="629.20" y1="817.70" x2="631.20" y2="817.70" stroke="#222" stroke-width="0.8"/>
<text x="633.20" y="819.85" font-size="6.0" text-anchor="start" font-weight="normal" fill="#111" stroke="#111" stroke-width="0.12" >0</text>
<line x1="629.20" y1="786.53" x2="631.20" y2="786.53" stroke="#222" stroke-width="0.8"/>
<text x="633.20" y="788.68" font-size="6.0" text-anchor="start" font-weight="normal" fill="#111" stroke="#111" stroke-width="0.12" >10</text>
<line x1="629.20" y1="755.36" x2="631.20" y2="755.36" stroke="#222" stroke-width="0.8"/>
<text x="633.20" y="757.51" font-size="6.0" text-anchor="start" font-weight="normal" fill="#111" stroke="#111" stroke-width="0.12" >20</text>
<line x1="629.20" y1="724.18" x2="631.20" y2="724.18" stroke="#222" stroke-width="0.8"/>
<text x="633.20" y="726.33" font-size="6.0" text-anchor="start" font-weight="normal" fill="#111" stroke="#111" stroke-width="0.12" >30</text>
<line x1="629.20" y1="693.01" x2="631.20" y2="693.01" stroke="#222" stroke-width="0.8"/>
<text x="633.20" y="695.16" font-size="6.0" text-anchor="start" font-weight="normal" fill="#111" stroke="#111" stroke-width="0.12" >40</text>
<line x1="629.20" y1="661.84" x2="631.20" y2="661.84" stroke="#222" stroke-width="0.8"/>
<text x="633.20" y="663.99" font-size="6.0" text-anchor="start" font-weight="normal" fill="#111" stroke="#111" stroke-width="0.12" >50</text>
<rect x="64.20" y="923.90" width="48.95" height="45.45" fill="#08306b"/>
<rect x="112.85" y="923.90" width="48.95" height="45.45" fill="#f7fbff"/>
<rect x="161.50" y="923.90" width="48.95" height="45.45" fill="#f7fbff"/>
<rect x="210.15" y="923.90" width="48.95" height="45.45" fill="#f7fbff"/>
<rect x="64.20" y="969.05" width="48.95" height="45.45" fill="#f3f8fe"/>
<rect x="112.85" y="969.05" width="48.95" height="45.45" fill="#083573"/>
<rect x="161.50" y="969.05" width="48.95" height="45.45" fill="#f7fbff"/>
<rect x="210.15" y="969.05" width="48.95" height="45.45" fill="#f7fbff"/>
<rect x="64.20" y="1014.20" width="48.95" height="45.45" fill="#eef5fc"/>
<rect x="112.85" y="1014.20" width="48.95" height="45.45" fill="#e6f0f9"/>
<rect x="161.50" y="1014.20" width="48.95" height="45.45" fill="#105ba4"/>
<rect x="210.15" y="1014.20" width="48.95" height="45.45" fill="#f1f7fd"/>
<rect x="64.20" y="1059.35" width="48.95" height="45.45" fill="#f7fbff"/>
<rect x="112.85" y="1059.35" width="48.95" height="45.45" fill="#eaf2fb"/>
<rect x="161.50" y="1059.35" width="48.95" height="45.45" fill="#f7fbff"/>
<rect x="210.15" y="1059.35" width="48.95" height="45.45" fill="#084285"/>
<text x="88.53" y="948.43" font-size="7.6" text-anchor="middle" font-weight="normal" fill="#ffffff" stroke="#ffffff" stroke-width="0.08" >90</text>
<text x="137.18" y="948.43" font-size="7.6" text-anchor="middle" font-weight="normal" fill="#262626" stroke="#262626" stroke-width="0.08" >0</text>
<text x="185.83" y="948.43" font-size="7.6" text-anchor="middle" font-weight="normal" fill="#262626" stroke="#262626" stroke-width="0.08" >0</text>
<text x="234.48" y="948.43" font-size="7.6" text-anchor="middle" font-weight="normal" fill="#262626" stroke="#262626" stroke-width="0.08" >0</text>
<text x="88.53" y="993.58" font-size="7.6" text-anchor="middle" font-weight="normal" fill="#262626" stroke="#262626" stroke-width="0.08" >2</text>
<text x="137.18" y="993.58" font-size="7.6" text-anchor="middle" font-weight="normal" fill="#ffffff" stroke="#ffffff" stroke-width="0.08" >88</text>
<text x="185.83" y="993.58" font-size="7.6" text-anchor="middle" font-weight="normal" fill="#262626" stroke="#262626" stroke-width="0.08" >0</text>
<text x="234.48" y="993.58" font-size="7.6" text-anchor="middle" font-weight="normal" fill="#262626" stroke="#262626" stroke-width="0.08" >0</text>
<text x="88.53" y="1038.73" font-size="7.6" text-anchor="middle" font-weight="normal" fill="#262626" stroke="#262626" stroke-width="0.08" >4</text>
<text x="137.18" y="1038.73" font-size="7.6" text-anchor="middle" font-weight="normal" fill="#262626" stroke="#262626" stroke-width="0.08" >8</text>
<text x="185.83" y="1038.73" font-size="7.6" text-anchor="middle" font-weight="normal" fill="#ffffff" stroke="#ffffff" stroke-width="0.08" >75</text>
<text x="234.48" y="1038.73" font-size="7.6" text-anchor="middle" font-weight="normal" fill="#262626" stroke="#262626" stroke-width="0.08" >3</text>
<text x="88.53" y="1083.88" font-size="7.6" text-anchor="middle" font-weight="normal" fill="#262626" stroke="#262626" stroke-width="0.08" >0</text>
<text x="137.18" y="1083.88" font-size="7.6" text-anchor="middle" font-weight="normal" fill="#262626" stroke="#262626" stroke-width="0.08" >6</text>
<text x="185.83" y="1083.88" font-size="7.6" text-anchor="middle" font-weight="normal" fill="#262626" stroke="#262626" stroke-width="0.08" >0</text>
<text x="234.48" y="1083.88" font-size="7.6" text-anchor="middle" font-weight="normal" fill="#ffffff" stroke="#ffffff" stroke-width="0.08" >84</text>
<line x1="88.53" y1="921.80" x2="88.53" y2="923.90" stroke="#222" stroke-width="0.8"/>
<text x="88.03" y="915.30" font-size="5.9" text-anchor="middle" font-weight="normal" fill="#111" stroke="#111" stroke-width="0.22" transform="rotate(-45 88.03 915.30)" dominant-baseline="central">T1</text>
<line x1="137.18" y1="921.80" x2="137.18" y2="923.90" stroke="#222" stroke-width="0.8"/>
<text x="136.68" y="915.30" font-size="5.9" text-anchor="middle" font-weight="normal" fill="#111" stroke="#111" stroke-width="0.22" transform="rotate(-45 136.68 915.30)" dominant-baseline="central">T2</text>
<line x1="185.83" y1="921.80" x2="185.83" y2="923.90" stroke="#222" stroke-width="0.8"/>
<text x="185.33" y="915.30" font-size="5.9" text-anchor="middle" font-weight="normal" fill="#111" stroke="#111" stroke-width="0.22" transform="rotate(-45 185.33 915.30)" dominant-baseline="central">T3</text>
<line x1="234.48" y1="921.80" x2="234.48" y2="923.90" stroke="#222" stroke-width="0.8"/>
<text x="233.98" y="915.30" font-size="5.9" text-anchor="middle" font-weight="normal" fill="#111" stroke="#111" stroke-width="0.22" transform="rotate(-45 233.98 915.30)" dominant-baseline="central">T4</text>
<line x1="62.30" y1="946.48" x2="64.20" y2="946.48" stroke="#222" stroke-width="0.8"/>
<text x="60.00" y="948.48" font-size="5.5" text-anchor="end" font-weight="normal" fill="#111" stroke="#111" stroke-width="0.22" >T1</text>
<line x1="62.30" y1="991.62" x2="64.20" y2="991.62" stroke="#222" stroke-width="0.8"/>
<text x="60.00" y="993.62" font-size="5.5" text-anchor="end" font-weight="normal" fill="#111" stroke="#111" stroke-width="0.22" >T2</text>
<line x1="62.30" y1="1036.78" x2="64.20" y2="1036.78" stroke="#222" stroke-width="0.8"/>
<text x="60.00" y="1038.78" font-size="5.5" text-anchor="end" font-weight="normal" fill="#111" stroke="#111" stroke-width="0.22" >T3</text>
<line x1="62.30" y1="1081.92" x2="64.20" y2="1081.92" stroke="#222" stroke-width="0.8"/>
<text x="60.00" y="1083.92" font-size="5.5" text-anchor="end" font-weight="normal" fill="#111" stroke="#111" stroke-width="0.22" >T4</text>
<text x="161.50" y="909.70" font-size="7.2" text-anchor="middle" font-weight="normal" fill="#111" stroke="#111" stroke-width="0.22" >Predicted Label</text>
<text x="161.50" y="893.70" font-size="8.5" text-anchor="middle" font-weight="normal" fill="#111" stroke="#111" stroke-width="0.22" >Confusion Matrix</text>
<text x="49.90" y="1014.20" font-size="7.3" text-anchor="middle" font-weight="normal" fill="#111" stroke="#111" stroke-width="0.22" transform="rotate(-90 49.90 1014.20)">True Label</text>
<text x="49.00" y="899.40" font-size="11.6" text-anchor="start" font-weight="bold" fill="#222" stroke="#222" stroke-width="0.1" >g</text>
<defs><linearGradient id="gg" x1="0" y1="1" x2="0" y2="0"><stop offset="0.0000" stop-color="#f7fbff"/><stop offset="0.0167" stop-color="#f4f9fe"/><stop offset="0.0333" stop-color="#f1f7fd"/><stop offset="0.0500" stop-color="#eef5fc"/><stop offset="0.0667" stop-color="#eaf2fb"/><stop offset="0.0833" stop-color="#e7f0fa"/><stop offset="0.1000" stop-color="#e3eef9"/><stop offset="0.1167" stop-color="#e0ecf8"/><stop offset="0.1333" stop-color="#dceaf6"/><stop offset="0.1500" stop-color="#d9e8f5"/><stop offset="0.1667" stop-color="#d6e6f4"/><stop offset="0.1833" stop-color="#d3e4f3"/><stop offset="0.2000" stop-color="#d0e1f2"/><stop offset="0.2167" stop-color="#cddff1"/><stop offset="0.2333" stop-color="#caddf0"/><stop offset="0.2500" stop-color="#c6dbef"/><stop offset="0.2667" stop-color="#c1d9ed"/><stop offset="0.2833" stop-color="#bcd7eb"/><stop offset="0.3000" stop-color="#b7d4ea"/><stop offset="0.3167" stop-color="#b0d2e7"/><stop offset="0.3333" stop-color="#abd0e6"/><stop offset="0.3500" stop-color="#a6cee4"/><stop offset="0.3667" stop-color="#a1cbe2"/><stop offset="0.3833" stop-color="#9ac8e0"/><stop offset="0.4000" stop-color="#94c4df"/><stop offset="0.4167" stop-color="#8dc1dd"/><stop offset="0.4333" stop-color="#87bddc"/><stop offset="0.4500" stop-color="#7fb9da"/><stop offset="0.4667" stop-color="#79b5d9"/><stop offset="0.4833" stop-color="#72b2d8"/><stop offset="0.5000" stop-color="#6aaed6"/><stop offset="0.5167" stop-color="#65aad4"/><stop offset="0.5333" stop-color="#60a7d2"/><stop offset="0.5500" stop-color="#5ba3d0"/><stop offset="0.5667" stop-color="#549fcd"/><stop offset="0.5833" stop-color="#4f9bcb"/><stop offset="0.6000" stop-color="#4a98c9"/><stop offset="0.6167" stop-color="#4594c7"/><stop offset="0.6333" stop-color="#3f8fc5"/><stop offset="0.6500" stop-color="#3b8bc2"/><stop offset="0.6667" stop-color="#3787c0"/><stop offset="0.6833" stop-color="#3383be"/><stop offset="0.7000" stop-color="#2e7ebc"/><stop offset="0.7167" stop-color="#2a7ab9"/><stop offset="0.7333" stop-color="#2575b7"/><stop offset="0.7500" stop-color="#2070b4"/><stop offset="0.7667" stop-color="#1d6cb1"/><stop offset="0.7833" stop-color="#1a68ae"/><stop offset="0.8000" stop-color="#1764ab"/><stop offset="0.8167" stop-color="#135fa7"/><stop offset="0.8333" stop-color="#105ba4"/><stop offset="0.8500" stop-color="#0d57a1"/><stop offset="0.8667" stop-color="#0a539e"/><stop offset="0.8833" stop-color="#084e98"/><stop offset="0.9000" stop-color="#084a91"/><stop offset="0.9167" stop-color="#08468b"/><stop offset="0.9333" stop-color="#084285"/><stop offset="0.9500" stop-color="#083c7d"/><stop offset="0.9667" stop-color="#083877"/><stop offset="0.9833" stop-color="#083471"/><stop offset="1.0000" stop-color="#08306b"/></linearGradient></defs>
<rect x="271.10" y="923.40" width="8.90" height="181.10" fill="url(#gg)"/>
<line x1="280.00" y1="1104.50" x2="282.00" y2="1104.50" stroke="#222" stroke-width="0.8"/>
<text x="284.00" y="1106.65" font-size="6.0" text-anchor="start" font-weight="normal" fill="#111" stroke="#111" stroke-width="0.12" >0</text>
<line x1="280.00" y1="1084.43" x2="282.00" y2="1084.43" stroke="#222" stroke-width="0.8"/>
<text x="284.00" y="1086.58" font-size="6.0" text-anchor="start" font-weight="normal" fill="#111" stroke="#111" stroke-width="0.12" >10</text>
<line x1="280.00" y1="1064.37" x2="282.00" y2="1064.37" stroke="#222" stroke-width="0.8"/>
<text x="284.00" y="1066.52" font-size="6.0" text-anchor="start" font-weight="normal" fill="#111" stroke="#111" stroke-width="0.12" >20</text>
<line x1="280.00" y1="1044.30" x2="282.00" y2="1044.30" stroke="#222" stroke-width="0.8"/>
<text x="284.00" y="1046.45" font-size="6.0" text-anchor="start" font-weight="normal" fill="#111" stroke="#111" stroke-width="0.12" >30</text>
<line x1="280.00" y1="1024.23" x2="282.00" y2="1024.23" stroke="#222" stroke-width="0.8"/>
<text x="284.00" y="1026.38" font-size="6.0" text-anchor="start" font-weight="normal" fill="#111" stroke="#111" stroke-width="0.12" >40</text>
<line x1="280.00" y1="1004.17" x2="282.00" y2="1004.17" stroke="#222" stroke-width="0.8"/>
<text x="284.00" y="1006.32" font-size="6.0" text-anchor="start" font-weight="normal" fill="#111" stroke="#111" stroke-width="0.12" >50</text>
<line x1="280.00" y1="984.10" x2="282.00" y2="984.10" stroke="#222" stroke-width="0.8"/>
<text x="284.00" y="986.25" font-size="6.0" text-anchor="start" font-weight="normal" fill="#111" stroke="#111" stroke-width="0.12" >60</text>
<line x1="280.00" y1="964.03" x2="282.00" y2="964.03" stroke="#222" stroke-width="0.8"/>
<text x="284.00" y="966.18" font-size="6.0" text-anchor="start" font-weight="normal" fill="#111" stroke="#111" stroke-width="0.12" >70</text>
<line x1="280.00" y1="943.97" x2="282.00" y2="943.97" stroke="#222" stroke-width="0.8"/>
<text x="284.00" y="946.12" font-size="6.0" text-anchor="start" font-weight="normal" fill="#111" stroke="#111" stroke-width="0.12" >80</text>
<line x1="280.00" y1="923.90" x2="282.00" y2="923.90" stroke="#222" stroke-width="0.8"/>
<text x="284.00" y="926.05" font-size="6.0" text-anchor="start" font-weight="normal" fill="#111" stroke="#111" stroke-width="0.12" >90</text>
<rect x="413.10" y="923.90" width="48.97" height="45.45" fill="#08478d"/>
<rect x="461.77" y="923.90" width="48.97" height="45.45" fill="#f7fbff"/>
<rect x="510.45" y="923.90" width="48.97" height="45.45" fill="#e2edf8"/>
<rect x="559.12" y="923.90" width="48.97" height="45.45" fill="#edf4fc"/>
<rect x="413.10" y="969.05" width="48.97" height="45.45" fill="#f7fbff"/>
<rect x="461.77" y="969.05" width="48.97" height="45.45" fill="#08306b"/>
<rect x="510.45" y="969.05" width="48.97" height="45.45" fill="#f4f9fe"/>
<rect x="559.12" y="969.05" width="48.97" height="45.45" fill="#edf4fc"/>
<rect x="413.10" y="1014.20" width="48.97" height="45.45" fill="#e9f2fa"/>
<rect x="461.77" y="1014.20" width="48.97" height="45.45" fill="#e9f2fa"/>
<rect x="510.45" y="1014.20" width="48.97" height="45.45" fill="#084387"/>
<rect x="559.12" y="1014.20" width="48.97" height="45.45" fill="#f7fbff"/>
<rect x="413.10" y="1059.35" width="48.97" height="45.45" fill="#f0f6fd"/>
<rect x="461.77" y="1059.35" width="48.97" height="45.45" fill="#deebf7"/>
<rect x="510.45" y="1059.35" width="48.97" height="45.45" fill="#f0f6fd"/>
<rect x="559.12" y="1059.35" width="48.97" height="45.45" fill="#08509b"/>
<text x="437.44" y="948.43" font-size="7.6" text-anchor="middle" font-weight="normal" fill="#ffffff" stroke="#ffffff" stroke-width="0.08" >51</text>
<text x="486.11" y="948.43" font-size="7.6" text-anchor="middle" font-weight="normal" fill="#262626" stroke="#262626" stroke-width="0.08" >0</text>
<text x="534.79" y="948.43" font-size="7.6" text-anchor="middle" font-weight="normal" fill="#262626" stroke="#262626" stroke-width="0.08" >6</text>
<text x="583.46" y="948.43" font-size="7.6" text-anchor="middle" font-weight="normal" fill="#262626" stroke="#262626" stroke-width="0.08" >3</text>
<text x="437.44" y="993.58" font-size="7.6" text-anchor="middle" font-weight="normal" fill="#262626" stroke="#262626" stroke-width="0.08" >0</text>
<text x="486.11" y="993.58" font-size="7.6" text-anchor="middle" font-weight="normal" fill="#ffffff" stroke="#ffffff" stroke-width="0.08" >56</text>
<text x="534.79" y="993.58" font-size="7.6" text-anchor="middle" font-weight="normal" fill="#262626" stroke="#262626" stroke-width="0.08" >1</text>
<text x="583.46" y="993.58" font-size="7.6" text-anchor="middle" font-weight="normal" fill="#262626" stroke="#262626" stroke-width="0.08" >3</text>
<text x="437.44" y="1038.73" font-size="7.6" text-anchor="middle" font-weight="normal" fill="#262626" stroke="#262626" stroke-width="0.08" >4</text>
<text x="486.11" y="1038.73" font-size="7.6" text-anchor="middle" font-weight="normal" fill="#262626" stroke="#262626" stroke-width="0.08" >4</text>
<text x="534.79" y="1038.73" font-size="7.6" text-anchor="middle" font-weight="normal" fill="#ffffff" stroke="#ffffff" stroke-width="0.08" >52</text>
<text x="583.46" y="1038.73" font-size="7.6" text-anchor="middle" font-weight="normal" fill="#262626" stroke="#262626" stroke-width="0.08" >0</text>
<text x="437.44" y="1083.88" font-size="7.6" text-anchor="middle" font-weight="normal" fill="#262626" stroke="#262626" stroke-width="0.08" >2</text>
<text x="486.11" y="1083.88" font-size="7.6" text-anchor="middle" font-weight="normal" fill="#262626" stroke="#262626" stroke-width="0.08" >7</text>
<text x="534.79" y="1083.88" font-size="7.6" text-anchor="middle" font-weight="normal" fill="#262626" stroke="#262626" stroke-width="0.08" >2</text>
<text x="583.46" y="1083.88" font-size="7.6" text-anchor="middle" font-weight="normal" fill="#ffffff" stroke="#ffffff" stroke-width="0.08" >49</text>
<line x1="437.44" y1="921.80" x2="437.44" y2="923.90" stroke="#222" stroke-width="0.8"/>
<text x="436.94" y="915.30" font-size="5.9" text-anchor="middle" font-weight="normal" fill="#111" stroke="#111" stroke-width="0.22" transform="rotate(-45 436.94 915.30)" dominant-baseline="central">T1</text>
<line x1="486.11" y1="921.80" x2="486.11" y2="923.90" stroke="#222" stroke-width="0.8"/>
<text x="485.61" y="915.30" font-size="5.9" text-anchor="middle" font-weight="normal" fill="#111" stroke="#111" stroke-width="0.22" transform="rotate(-45 485.61 915.30)" dominant-baseline="central">T2</text>
<line x1="534.79" y1="921.80" x2="534.79" y2="923.90" stroke="#222" stroke-width="0.8"/>
<text x="534.29" y="915.30" font-size="5.9" text-anchor="middle" font-weight="normal" fill="#111" stroke="#111" stroke-width="0.22" transform="rotate(-45 534.29 915.30)" dominant-baseline="central">T3</text>
<line x1="583.46" y1="921.80" x2="583.46" y2="923.90" stroke="#222" stroke-width="0.8"/>
<text x="582.96" y="915.30" font-size="5.9" text-anchor="middle" font-weight="normal" fill="#111" stroke="#111" stroke-width="0.22" transform="rotate(-45 582.96 915.30)" dominant-baseline="central">T4</text>
<line x1="411.20" y1="946.48" x2="413.10" y2="946.48" stroke="#222" stroke-width="0.8"/>
<text x="408.90" y="948.48" font-size="5.5" text-anchor="end" font-weight="normal" fill="#111" stroke="#111" stroke-width="0.22" >T1</text>
<line x1="411.20" y1="991.62" x2="413.10" y2="991.62" stroke="#222" stroke-width="0.8"/>
<text x="408.90" y="993.62" font-size="5.5" text-anchor="end" font-weight="normal" fill="#111" stroke="#111" stroke-width="0.22" >T2</text>
<line x1="411.20" y1="1036.78" x2="413.10" y2="1036.78" stroke="#222" stroke-width="0.8"/>
<text x="408.90" y="1038.78" font-size="5.5" text-anchor="end" font-weight="normal" fill="#111" stroke="#111" stroke-width="0.22" >T3</text>
<line x1="411.20" y1="1081.92" x2="413.10" y2="1081.92" stroke="#222" stroke-width="0.8"/>
<text x="408.90" y="1083.92" font-size="5.5" text-anchor="end" font-weight="normal" fill="#111" stroke="#111" stroke-width="0.22" >T4</text>
<text x="510.45" y="909.70" font-size="7.2" text-anchor="middle" font-weight="normal" fill="#111" stroke="#111" stroke-width="0.22" >Predicted Label</text>
<text x="510.45" y="893.70" font-size="8.5" text-anchor="middle" font-weight="normal" fill="#111" stroke="#111" stroke-width="0.22" >Confusion Matrix</text>
<text x="399.10" y="1014.20" font-size="7.3" text-anchor="middle" font-weight="normal" fill="#111" stroke="#111" stroke-width="0.22" transform="rotate(-90 399.10 1014.20)">True Label</text>
<text x="398.30" y="899.70" font-size="11.6" text-anchor="start" font-weight="bold" fill="#222" stroke="#222" stroke-width="0.1" >h</text>
<defs><linearGradient id="gh" x1="0" y1="1" x2="0" y2="0"><stop offset="0.0000" stop-color="#f7fbff"/><stop offset="0.0167" stop-color="#f4f9fe"/><stop offset="0.0333" stop-color="#f1f7fd"/><stop offset="0.0500" stop-color="#eef5fc"/><stop offset="0.0667" stop-color="#eaf2fb"/><stop offset="0.0833" stop-color="#e7f0fa"/><stop offset="0.1000" stop-color="#e3eef9"/><stop offset="0.1167" stop-color="#e0ecf8"/><stop offset="0.1333" stop-color="#dceaf6"/><stop offset="0.1500" stop-color="#d9e8f5"/><stop offset="0.1667" stop-color="#d6e6f4"/><stop offset="0.1833" stop-color="#d3e4f3"/><stop offset="0.2000" stop-color="#d0e1f2"/><stop offset="0.2167" stop-color="#cddff1"/><stop offset="0.2333" stop-color="#caddf0"/><stop offset="0.2500" stop-color="#c6dbef"/><stop offset="0.2667" stop-color="#c1d9ed"/><stop offset="0.2833" stop-color="#bcd7eb"/><stop offset="0.3000" stop-color="#b7d4ea"/><stop offset="0.3167" stop-color="#b0d2e7"/><stop offset="0.3333" stop-color="#abd0e6"/><stop offset="0.3500" stop-color="#a6cee4"/><stop offset="0.3667" stop-color="#a1cbe2"/><stop offset="0.3833" stop-color="#9ac8e0"/><stop offset="0.4000" stop-color="#94c4df"/><stop offset="0.4167" stop-color="#8dc1dd"/><stop offset="0.4333" stop-color="#87bddc"/><stop offset="0.4500" stop-color="#7fb9da"/><stop offset="0.4667" stop-color="#79b5d9"/><stop offset="0.4833" stop-color="#72b2d8"/><stop offset="0.5000" stop-color="#6aaed6"/><stop offset="0.5167" stop-color="#65aad4"/><stop offset="0.5333" stop-color="#60a7d2"/><stop offset="0.5500" stop-color="#5ba3d0"/><stop offset="0.5667" stop-color="#549fcd"/><stop offset="0.5833" stop-color="#4f9bcb"/><stop offset="0.6000" stop-color="#4a98c9"/><stop offset="0.6167" stop-color="#4594c7"/><stop offset="0.6333" stop-color="#3f8fc5"/><stop offset="0.6500" stop-color="#3b8bc2"/><stop offset="0.6667" stop-color="#3787c0"/><stop offset="0.6833" stop-color="#3383be"/><stop offset="0.7000" stop-color="#2e7ebc"/><stop offset="0.7167" stop-color="#2a7ab9"/><stop offset="0.7333" stop-color="#2575b7"/><stop offset="0.7500" stop-color="#2070b4"/><stop offset="0.7667" stop-color="#1d6cb1"/><stop offset="0.7833" stop-color="#1a68ae"/><stop offset="0.8000" stop-color="#1764ab"/><stop offset="0.8167" stop-color="#135fa7"/><stop offset="0.8333" stop-color="#105ba4"/><stop offset="0.8500" stop-color="#0d57a1"/><stop offset="0.8667" stop-color="#0a539e"/><stop offset="0.8833" stop-color="#084e98"/><stop offset="0.9000" stop-color="#084a91"/><stop offset="0.9167" stop-color="#08468b"/><stop offset="0.9333" stop-color="#084285"/><stop offset="0.9500" stop-color="#083c7d"/><stop offset="0.9667" stop-color="#083877"/><stop offset="0.9833" stop-color="#083471"/><stop offset="1.0000" stop-color="#08306b"/></linearGradient></defs>
<rect x="620.30" y="923.40" width="8.90" height="181.10" fill="url(#gh)"/>
<line x1="629.20" y1="1104.50" x2="631.20" y2="1104.50" stroke="#222" stroke-width="0.8"/>
<text x="633.20" y="1106.65" font-size="6.0" text-anchor="start" font-weight="normal" fill="#111" stroke="#111" stroke-width="0.12" >0</text>
<line x1="629.20" y1="1072.25" x2="631.20" y2="1072.25" stroke="#222" stroke-width="0.8"/>
<text x="633.20" y="1074.40" font-size="6.0" text-anchor="start" font-weight="normal" fill="#111" stroke="#111" stroke-width="0.12" >10</text>
<line x1="629.20" y1="1040.00" x2="631.20" y2="1040.00" stroke="#222" stroke-width="0.8"/>
<text x="633.20" y="1042.15" font-size="6.0" text-anchor="start" font-weight="normal" fill="#111" stroke="#111" stroke-width="0.12" >20</text>
<line x1="629.20" y1="1007.75" x2="631.20" y2="1007.75" stroke="#222" stroke-width="0.8"/>
<text x="633.20" y="1009.90" font-size="6.0" text-anchor="start" font-weight="normal" fill="#111" stroke="#111" stroke-width="0.12" >30</text>
<line x1="629.20" y1="975.50" x2="631.20" y2="975.50" stroke="#222" stroke-width="0.8"/>
<text x="633.20" y="977.65" font-size="6.0" text-anchor="start" font-weight="normal" fill="#111" stroke="#111" stroke-width="0.12" >40</text>
<line x1="629.20" y1="943.25" x2="631.20" y2="943.25" stroke="#222" stroke-width="0.8"/>
<text x="633.20" y="945.40" font-size="6.0" text-anchor="start" font-weight="normal" fill="#111" stroke="#111" stroke-width="0.12" >50</text>
</svg></body></html>
